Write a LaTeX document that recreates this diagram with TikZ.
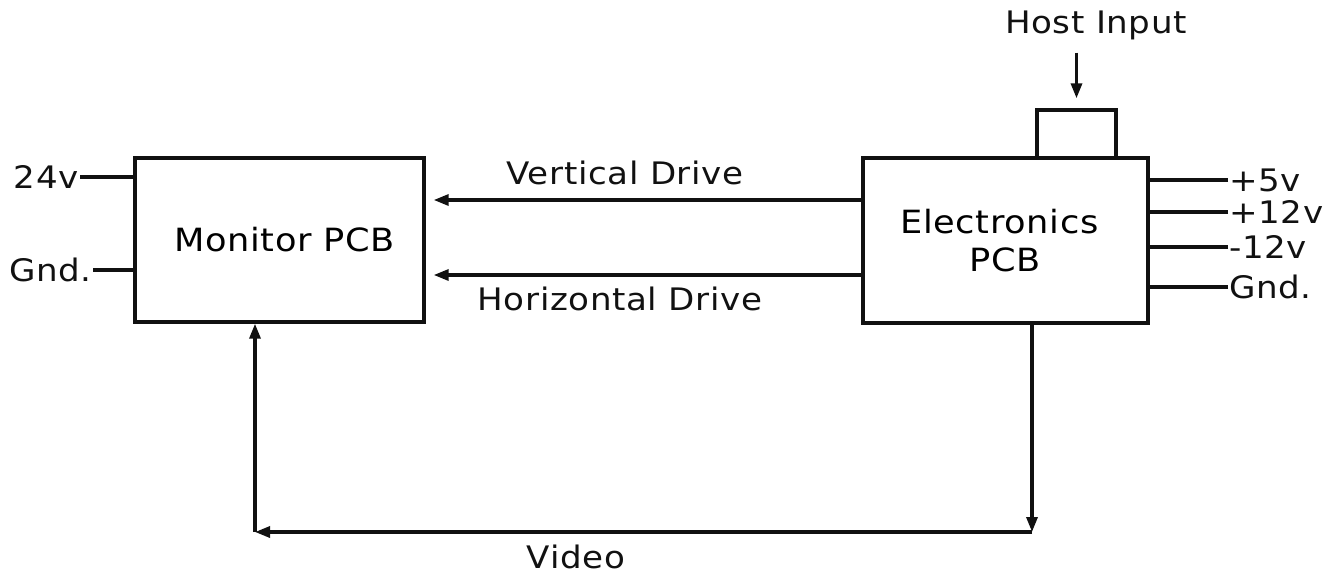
\documentclass[tikz,border=0pt]{standalone}
\usepackage{fontspec}
\setmainfont{DejaVu Sans}[FakeStretch=1.1,LetterSpace=2]
\usetikzlibrary{positioning,arrows.meta}
\definecolor{ink}{HTML}{111111}
\tikzset{
  board/.style={draw=ink,line width=3.4pt,font=\fontsize{32}{38}\selectfont,align=center},
  lbl/.style={font=\fontsize{31}{36}\selectfont,ink,inner sep=1pt},
  wire/.style={draw=ink,line width=3.2pt},
  arr/.style={wire,-{Triangle[length=15pt,width=11pt]}}
}

\begin{document}
\begin{tikzpicture}[x=1pt,y=-1pt]
        \useasboundingbox (0,0) rectangle (1333,581);
        \node[board,minimum width=289pt,minimum height=164pt] (monitor) at (279.5,240) {\hspace{10pt}Monitor PCB};
        \node[board,minimum width=285pt,minimum height=165pt] (elec) at (1005.5,240.5) {\hspace*{-12pt}Electronics\\PCB};
        \node[draw=ink,line width=3.4pt,minimum width=79pt,minimum height=48pt] (plug) at (1076.5,134) {};
        \node[lbl] (host) at (1096,25) {Host Input};
        \draw[arr,shorten >=10pt] ([yshift=-12pt]host.south -| plug.north) -- (plug.north);
        % supply leads
        \node[lbl,anchor=east] (v24) at (80,177) {24v};
        \node[lbl,anchor=east] (gndl) at (93,270) {Gnd.};
        \draw[wire] (v24.east) -- (v24.east -| monitor.west);
        \draw[wire] (gndl.east) -- (gndl.east -| monitor.west);
        \node[lbl,anchor=west] (p5) at (1228,180) {+5v};
        \node[lbl,anchor=west] (p12) at (1228,212) {+12v};
        \node[lbl,anchor=west] (m12) at (1228,247) {-12v};
        \node[lbl,anchor=west] (gndr) at (1228,287) {Gnd.};
        \draw[wire] (p5.west) -- (p5.west -| elec.east);
        \draw[wire] (p12.west) -- (p12.west -| elec.east);
        \draw[wire] (m12.west) -- (m12.west -| elec.east);
        \draw[wire] (gndr.west) -- (gndr.west -| elec.east);
        % drive signals
        \coordinate (vdrv) at (863,200);
        \coordinate (hdrv) at (863,275);
        \draw[arr,shorten >=8pt] (vdrv) -- (vdrv -| monitor.east);
        \draw[arr,shorten >=8pt] (hdrv) -- (hdrv -| monitor.east);
        \node[lbl] (vlab) at (625,173) {Vertical Drive};
        \node[lbl] (hlab) at (620,299) {Horizontal Drive};
        % video loop
        \coordinate (vr) at (1032,532);
        \coordinate (vl) at (255,532);
        \draw[arr] (elec.south -| vr) -- (vr);
        \draw[arr] (vr) -- (vl);
        \draw[arr] (vl) -- (monitor.south -| vl);
        \node[lbl] (video) at (576,557) {Video};
      \end{tikzpicture}
\end{document}
